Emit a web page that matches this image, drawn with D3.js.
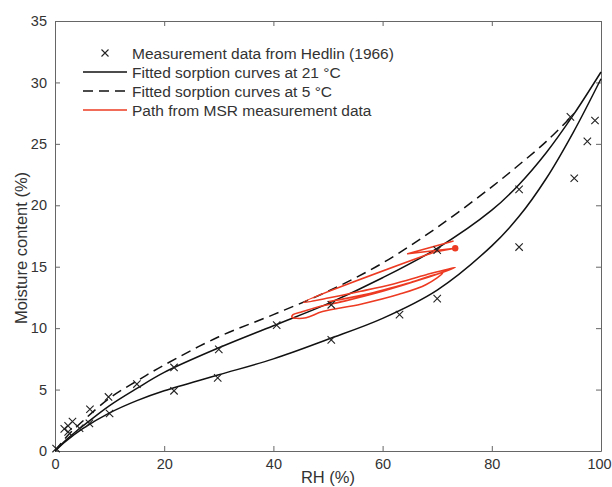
<!DOCTYPE html>
<html>
<head>
<meta charset="utf-8">
<script src="https://cdn.jsdelivr.net/npm/d3@7"></script>
<style>
  body { margin: 0; background: #fff; }
  svg text { font-family: "Liberation Sans", Arial, sans-serif; fill: #333; }
</style>
</head>
<body>
<svg id="chart" width="612" height="487"></svg>
<script>
// data (RH %, moisture content %)
const rhGrid = [0, 2, 5, 10, 15, 20, 30, 40, 50, 60, 70, 80, 85, 90, 95, 100];
const desorb21 = [0, 0.9, 2.0, 3.7, 5.1, 6.4, 8.4, 10.2, 12.0, 14.1, 16.5, 19.6, 21.7, 24.3, 27.4, 30.85];
const adsorb21 = [0, 0.8, 1.8, 3.1, 4.1, 4.9, 6.2, 7.5, 9.1, 10.8, 13.1, 16.7, 19.1, 22.2, 26.0, 30.3];
const rhDashed = [0, 2, 5, 10, 15, 20, 30, 40, 50, 60, 70, 80, 85, 90, 95];
const sorb5 = [0, 1.1, 2.4, 4.3, 5.7, 7.0, 9.3, 11.1, 13.0, 15.3, 18.2, 21.5, 23.3, 25.2, 27.4];

// Hedlin (1966) points
const hedlinRH = [0.2, 1.7, 2.4, 2.4, 3.2, 4.5, 6.3, 6.4, 9.8, 10.0, 15.0, 21.8, 21.8, 30.0, 29.8, 40.6, 50.6, 50.6, 63.1, 70.0, 70.0, 85.0, 85.0, 94.4, 95.1, 97.5, 98.9];
const hedlinMC = [0.2, 1.8, 2.05, 1.55, 2.4, 1.85, 2.25, 3.4, 4.4, 3.05, 5.45, 6.8, 4.9, 8.27, 5.95, 10.25, 11.9, 9.05, 11.1, 16.35, 12.4, 21.3, 16.6, 27.2, 22.2, 25.2, 26.9];

// MSR path (first 4 points: the sharp "arrow" near the end marker)
const msrRH = [73.0, 64.6, 73.3, 69.5, 45.5, 50, 56, 62, 68, 73.3, 67, 60, 53, 48, 45, 43.6, 43.4, 44.2, 46, 49, 56, 63, 68, 71, 65, 57, 50];
const msrMC = [17.1, 16.05, 16.5, 16.2, 12.1, 12.45, 13.0, 13.6, 14.35, 14.95, 13.95, 13.0, 12.2, 11.7, 11.3, 11.1, 10.9, 10.8, 10.85, 11.35, 11.95, 12.75, 13.55, 14.5, 13.7, 12.75, 12.15];
const msrEnd = [73.3, 16.5];

const xTicks = [0, 20, 40, 60, 80, 100];
const yTicks = [0, 5, 10, 15, 20, 25, 30, 35];

const legendItems = ["Measurement data from Hedlin (1966)", "Fitted sorption curves at 21 \u00B0C",
  "Fitted sorption curves at 5 \u00B0C", "Path from MSR measurement data"];

const margin = {top: 21, right: 11, bottom: 36, left: 55};
const width = 612 - margin.left - margin.right;
const height = 487 - margin.top - margin.bottom;
const red = "#ec3b22";
const axisCol = "#666";

const svg = d3.select("#chart");
const g = svg.append("g").attr("transform", "translate(" + margin.left + "," + margin.top + ")");

const x = d3.scaleLinear().domain([0, 100]).range([0, width]);
const y = d3.scaleLinear().domain([0, 35]).range([height, 0]);

// axes (ticks inward, MATLAB style)
const xAxis = g.append("g").attr("transform", "translate(0," + height + ")")
  .call(d3.axisBottom(x).tickValues(xTicks).tickSizeInner(-5).tickSizeOuter(0).tickPadding(8));
const xTop = g.append("g")
  .call(d3.axisTop(x).tickValues(xTicks).tickSizeInner(-5).tickSizeOuter(0).tickFormat(""));
const yAxis = g.append("g")
  .call(d3.axisLeft(y).tickValues(yTicks).tickSizeInner(-5).tickSizeOuter(0).tickPadding(8));
const yRight = g.append("g").attr("transform", "translate(" + width + ",0)")
  .call(d3.axisRight(y).tickValues(yTicks).tickSizeInner(-5).tickSizeOuter(0).tickFormat(""));

[xAxis, xTop, yAxis, yRight].forEach(function(a) {
  a.selectAll("path").attr("stroke", axisCol);
  a.selectAll("line").attr("stroke", axisCol);
  a.selectAll("text").attr("font-size", "14.5px").style("fill", "#333");
});
// keep "100" inside the page edge
xAxis.selectAll(".tick text").filter(d => d === 100).attr("dx", "-2");

// axis labels
g.append("text")
  .attr("x", width / 2).attr("y", height + 32)
  .attr("text-anchor", "middle").attr("font-size", "16.5px")
  .text("RH (%)");
g.append("text")
  .attr("transform", "translate(" + (-28) + "," + (height / 2 + 12) + ") rotate(-90)")
  .attr("text-anchor", "middle").attr("font-size", "16.5px")
  .text("Moisture content (%)");

// curves
const line = d3.line().x(d => x(d[0])).y(d => y(d[1])).curve(d3.curveCatmullRom.alpha(0.5));

g.append("path").datum(rhGrid.map((r, i) => [r, desorb21[i]]))
  .attr("fill", "none").attr("stroke", "#111").attr("stroke-width", 1.5).attr("d", line);
g.append("path").datum(rhGrid.map((r, i) => [r, adsorb21[i]]))
  .attr("fill", "none").attr("stroke", "#111").attr("stroke-width", 1.5).attr("d", line);
g.append("path").datum(rhDashed.map((r, i) => [r, sorb5[i]]))
  .attr("fill", "none").attr("stroke", "#111").attr("stroke-width", 1.5)
  .attr("stroke-dasharray", "10,6").attr("d", line);

// MSR path: sharp arrow part straight, loops smoothed
const msr = msrRH.map((r, i) => [r, msrMC[i]]);
const straight = d3.line().x(d => x(d[0])).y(d => y(d[1]));
g.append("path").datum(msr.slice(0, 4))
  .attr("fill", "none").attr("stroke", red).attr("stroke-width", 1.6)
  .attr("stroke-linejoin", "round").attr("d", straight);
g.append("path").datum(msr.slice(3))
  .attr("fill", "none").attr("stroke", red).attr("stroke-width", 1.6)
  .attr("stroke-linejoin", "round").attr("d", line);
g.append("circle").attr("cx", x(msrEnd[0])).attr("cy", y(msrEnd[1])).attr("r", 3.2).attr("fill", red);

// crosses
const cross = function(sel, cx, cy, s) {
  sel.append("path")
    .attr("d", "M" + (cx - s) + "," + (cy - s) + "L" + (cx + s) + "," + (cy + s) +
               "M" + (cx - s) + "," + (cy + s) + "L" + (cx + s) + "," + (cy - s))
    .attr("stroke", "#222").attr("stroke-width", 1.1).attr("fill", "none");
};
const marks = g.append("g");
hedlinRH.forEach(function(r, i) { cross(marks, x(r), y(hedlinMC[i]), 3.7); });

// legend
const leg = svg.append("g");
const legY = [53, 72, 91, 110];
cross(leg, 105, legY[0], 3.5);
leg.append("line").attr("x1", 83).attr("x2", 127).attr("y1", legY[1]).attr("y2", legY[1])
  .attr("stroke", "#111").attr("stroke-width", 1.5);
leg.append("line").attr("x1", 83).attr("x2", 127).attr("y1", legY[2]).attr("y2", legY[2])
  .attr("stroke", "#111").attr("stroke-width", 1.5).attr("stroke-dasharray", "10,6");
leg.append("line").attr("x1", 83).attr("x2", 127).attr("y1", legY[3]).attr("y2", legY[3])
  .attr("stroke", red).attr("stroke-width", 1.6);
leg.selectAll("text.leg").data(legendItems).enter().append("text")
  .attr("class", "leg")
  .attr("x", 132).attr("y", (d, i) => legY[i] + 5.5)
  .attr("font-size", "15.5px")
  .text(d => d);
</script>
</body>
</html>
